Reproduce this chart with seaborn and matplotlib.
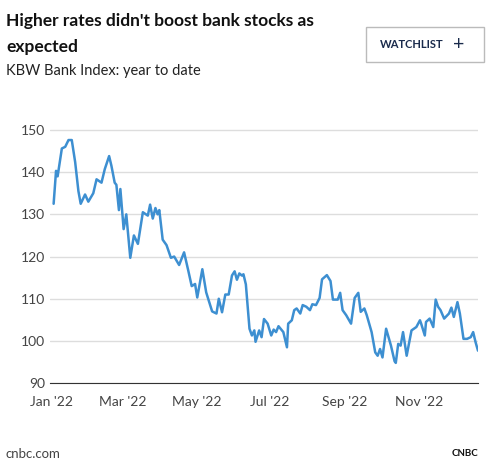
import pandas as pd
import numpy as np
import matplotlib
matplotlib.use("Agg")
import matplotlib.pyplot as plt
import seaborn as sns
from matplotlib.patches import Rectangle
import matplotlib.dates as mdates

# days since 2022-01-03 and index level
days = [0, 2, 3.3, 6.8, 9.6, 12.3, 15, 17.8, 20.5, 22.4, 26, 28.7, 32.8, 35.5, 39.6, 42.3,
        45.9, 47.8, 50.5, 51.9, 54, 55.2, 57.9, 60.1, 63.4, 66.4, 69.7, 73.8, 77.9, 79.8,
        82, 84.2, 86, 87.4, 90.2, 93.4, 97, 99.7, 103.8, 107.9, 111.5, 114.2, 117, 118.8,
        123, 126.2, 131.1, 134.7, 136.6, 139.3, 142, 144.8, 147.5, 149.7, 151.6, 153.6, 155.7,
        157, 159, 162, 164, 166, 167, 170, 172, 174, 177, 180, 182, 184, 186, 190, 193, 194,
        197, 199, 201, 204, 206, 209, 212, 214, 217, 220, 222, 226, 229, 231, 235, 237, 239,
        242, 246, 249, 252, 254, 257, 259, 263, 266, 268, 270, 272, 275, 279, 282, 283, 285,
        287, 289, 292, 296, 300, 303, 304, 307, 308, 311, 314, 316, 318, 320, 323, 327, 329,
        331, 334, 336, 339, 342, 345, 347, 349, 351]
values = [132.5, 140.3, 139, 145.6, 146, 147.6, 147.6, 142.4, 135.5, 132.5, 134.7, 133, 135,
          138.3, 137.5, 140.7, 143.8, 141.5, 137.5, 137, 131, 136, 126.5, 130, 119.7, 125, 123,
          130.5, 129.7, 132.3, 129, 131.5, 130, 131, 124, 122.7, 119.7, 120, 118, 121, 116.5,
          113, 113.5, 110.3, 117, 111.5, 107, 106.5, 110, 106.8, 111, 111, 115.5, 116.5, 114.5,
          116, 115.5,
          115.8, 113.4, 102.9, 101.3, 102.5, 99.8, 102.5, 100.9, 105.2, 104.1, 101.3, 102.7,
          102.1, 103.5, 102.1, 98.5, 104.1, 104.9, 107.3, 107.7, 106.5, 108.5, 108.1, 107.3,
          108.7, 108.5, 110.2, 114.6, 115.6, 114.2, 109.8, 109.8, 111.4, 107.3, 106.1, 104.1,
          110.2, 111.4, 106.9, 107.7, 106.1, 102.1, 97.3, 96.5, 98.1, 96.1, 102.9, 98.9, 95.2,
          94.8, 99.3, 98.9, 102.1, 96.5, 102.5, 103.3, 104.9, 104.1, 101.3, 104.5, 105.3, 103.3,
          109.8, 108.1, 107.3, 105.3, 106.5, 107.9, 105.7, 109.2, 106.5, 100.5, 100.5, 100.9,
          102.1, 99.7, 97.7]
ticks = ["2022-01-01", "2022-03-01", "2022-05-01", "2022-07-01", "2022-09-01", "2022-11-01"]
tick_labels = ["Jan '22", "Mar '22", "May '22", "Jul '22", "Sep '22", "Nov '22"]

df = pd.DataFrame({"date": pd.Timestamp("2022-01-03") + pd.to_timedelta(np.array(days), unit="D"),
                   "value": values})

sns.set_style("white")
plt.rcParams["font.family"] = ["Lato", "DejaVu Sans"]
fig = plt.figure(figsize=(5, 4.69), dpi=100)
ax = fig.add_axes([0.1, 0.183, 0.856, 0.585])
sns.lineplot(data=df, x="date", y="value", ax=ax, color="#3d8fd1", linewidth=1.8)

ax.set_ylim(90, 155)
ax.set_yticks([90, 100, 110, 120, 130, 140, 150])
ax.set_xlim(pd.Timestamp("2021-12-31"), pd.Timestamp("2022-12-20"))
ax.set_xticks(pd.to_datetime(ticks))
ax.set_xticklabels(tick_labels)
ax.grid(axis="y", color="#dddddd", linewidth=1)
for s in ["top", "right", "left"]:
    ax.spines[s].set_visible(False)
ax.spines["bottom"].set_color("#333333")
ax.tick_params(axis="x", length=6, color="#333333", labelsize=10, labelcolor="#444444")
ax.tick_params(axis="y", length=0, labelsize=10, labelcolor="#444444")
ax.set_xlabel("")
ax.set_ylabel("")

fig.text(0.012, 0.955, "Higher rates didn't boost bank stocks as", fontsize=12.5, fontweight="bold", color="#111111", va="center")
fig.text(0.012, 0.900, "expected", fontsize=12.5, fontweight="bold", color="#111111", va="center")
fig.text(0.012, 0.848, "KBW Bank Index: year to date", fontsize=10.5, color="#222222", va="center")
fig.add_artist(Rectangle((0.732, 0.868), 0.236, 0.075, transform=fig.transFigure,
                         fill=False, edgecolor="#bbbbbb", linewidth=1))
fig.text(0.76, 0.905, "WATCHLIST", fontsize=8, fontweight="bold", color="#1a2b4c", va="center")
fig.text(0.905, 0.905, "+", fontsize=14, color="#1a2b4c", va="center")
fig.text(0.012, 0.033, "cnbc.com", fontsize=9.5, color="#444444", va="center")
fig.text(0.93, 0.033, "CNBC", fontsize=7, fontweight="bold", color="#111111", va="center", ha="center")

fig.savefig("out.png", dpi=100)
